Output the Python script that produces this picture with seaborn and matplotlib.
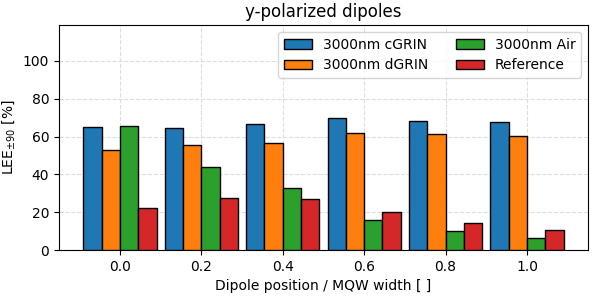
import pandas as pd
import numpy as np
import matplotlib
matplotlib.use("Agg")
import matplotlib.pyplot as plt
import seaborn as sns

# dados
positions = ["0.0", "0.2", "0.4", "0.6", "0.8", "1.0"]
series_names = ["3000nm cGRIN", "3000nm dGRIN", "3000nm Air", "Reference"]
cgrin = [64.9, 64.7, 66.7, 69.8, 68.4, 67.9]
dgrin = [52.9, 55.6, 56.8, 62.1, 61.5, 60.3]
air = [65.6, 43.7, 32.6, 16.0, 9.9, 6.5]
reference = [22.0, 27.4, 27.0, 19.9, 14.5, 10.4]

df = pd.DataFrame({
    "pos": positions * 4,
    "serie": np.repeat(series_names, len(positions)),
    "lee": cgrin + dgrin + air + reference,
})

cores = sns.color_palette("tab10")[:4]

fig, ax = plt.subplots(figsize=(5.92, 2.96), dpi=100)
sns.barplot(data=df, x="pos", y="lee", hue="serie", hue_order=series_names,
            order=positions, palette=cores, width=0.9, saturation=1,
            edgecolor="black", linewidth=1.0, ax=ax, zorder=3)

ax.grid(True, linestyle="--", color="#dddddd", zorder=0)
ax.set_axisbelow(True)
ax.set_xlim(-0.75, 5.75)
ax.set_ylim(0, 119)
ax.set_yticks([0, 20, 40, 60, 80, 100])
ax.set_title("y-polarized dipoles")
ax.set_xlabel("Dipole position / MQW width [ ]")
ax.set_ylabel(r"LEE$_{\pm90}$ [%]")
ax.legend(ncol=2, loc="upper right")

fig.subplots_adjust(left=0.0997, right=0.9932, bottom=0.1554, top=0.9155)
fig.savefig("out.png", dpi=100)
